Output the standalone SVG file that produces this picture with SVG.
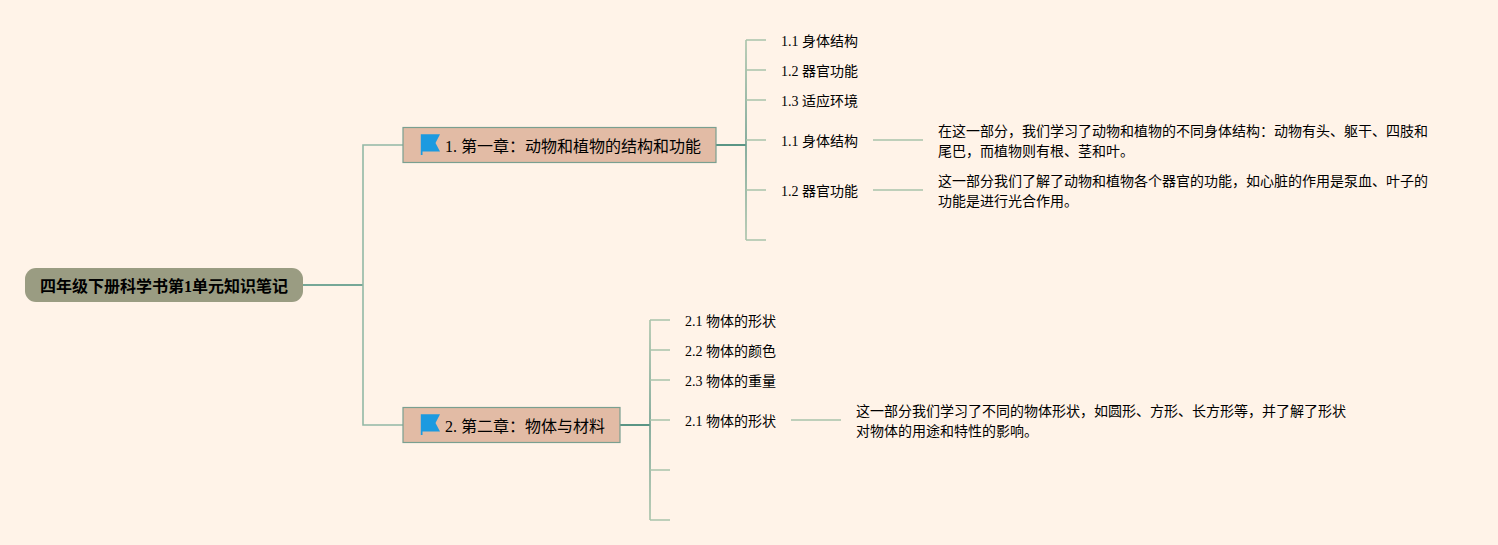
<svg xmlns="http://www.w3.org/2000/svg" width="1498" height="545" viewBox="0 0 1498 545">
<style>
text{font-family:"Liberation Serif","Noto Sans CJK SC",serif;fill:#000}
.root{font-size:16px;font-weight:bold}
.main{font-size:16px}
.sub{font-size:14px}
.c{fill:none;stroke-linecap:butt}
.lead{stroke:#a9c3aa;stroke-width:1.6;fill:none}
.topic{fill:#e2bba5;stroke:#7a9f90;stroke-width:1.2}
</style>
<defs>
<linearGradient id="t1" gradientUnits="userSpaceOnUse" x1="0" y1="40" x2="0" y2="240"><stop offset="0" stop-color="#a9c3aa"/><stop offset="0.52" stop-color="#6a9c8c"/><stop offset="1" stop-color="#a9c3aa"/></linearGradient>
<linearGradient id="t2" gradientUnits="userSpaceOnUse" x1="0" y1="320" x2="0" y2="520"><stop offset="0" stop-color="#a9c3aa"/><stop offset="0.52" stop-color="#6a9c8c"/><stop offset="1" stop-color="#a9c3aa"/></linearGradient>
<g id="flag"><path d="M0.300 0.800H19.500L15 9.500L19.500 18H2V21.500H0.300Z" fill="#1b9ae0"/></g>
</defs>
<rect width="1498" height="545" fill="#fff3e8"/>
<g id="connectors">
<path class="c" d="M302 285H363" stroke="#76a797" stroke-width="2"/>
<path class="c" d="M363 285V145H403M363 285V425H403" stroke="#93b8a5" stroke-width="1.600"/>
<path class="c" d="M716 145H746" stroke="#5a9585" stroke-width="2"/>
<path class="c" d="M746 40V240" stroke="url(#t1)" stroke-width="1.600"/>
<path class="lead" d="M746 40H766M746 70H766M746 100H766M746 140H766M746 190H766M746 240H766M873 140H923M873 190H923"/>
<path class="c" d="M620 425H650" stroke="#5a9585" stroke-width="2"/>
<path class="c" d="M650 320V520" stroke="url(#t2)" stroke-width="1.600"/>
<path class="lead" d="M650 320H670M650 350H670M650 380H670M650 420H670M650 470H670M650 520H670M791 420H841"/>
</g>
<g id="root"><rect x="25" y="268" width="278" height="34" rx="11" fill="#9a9c82"/><text class="root" x="40" y="291.500">四年级下册科学书第1单元知识笔记</text></g>
<g id="t-1"><rect class="topic" x="403" y="127.500" width="313" height="35"/><use href="#flag" x="420.500" y="133.500"/><text class="main" x="445" y="152">1. 第一章：动物和植物的结构和功能</text></g>
<g id="t-2"><rect class="topic" x="403" y="407.500" width="217" height="35"/><use href="#flag" x="420.500" y="413.500"/><text class="main" x="445" y="432">2. 第二章：物体与材料</text></g>
<g id="n11"><text class="sub" x="781" y="46">1.1 身体结构</text></g>
<g id="n12"><text class="sub" x="781" y="76">1.2 器官功能</text></g>
<g id="n13"><text class="sub" x="781" y="106">1.3 适应环境</text></g>
<g id="n14"><text class="sub" x="781" y="146">1.1 身体结构</text></g>
<g id="n15"><text class="sub" x="781" y="196">1.2 器官功能</text></g>
<g id="d1"><text class="sub" x="938" y="136">在这一部分，我们学习了动物和植物的不同身体结构：动物有头、躯干、四肢和</text><text class="sub" x="938" y="156">尾巴，而植物则有根、茎和叶。</text></g>
<g id="d2"><text class="sub" x="938" y="186">这一部分我们了解了动物和植物各个器官的功能，如心脏的作用是泵血、叶子的</text><text class="sub" x="938" y="206">功能是进行光合作用。</text></g>
<g id="n21"><text class="sub" x="685" y="326">2.1 物体的形状</text></g>
<g id="n22"><text class="sub" x="685" y="356">2.2 物体的颜色</text></g>
<g id="n23"><text class="sub" x="685" y="386">2.3 物体的重量</text></g>
<g id="n24"><text class="sub" x="685" y="426">2.1 物体的形状</text></g>
<g id="d3"><text class="sub" x="856" y="416">这一部分我们学习了不同的物体形状，如圆形、方形、长方形等，并了解了形状</text><text class="sub" x="856" y="436">对物体的用途和特性的影响。</text></g>
</svg>
